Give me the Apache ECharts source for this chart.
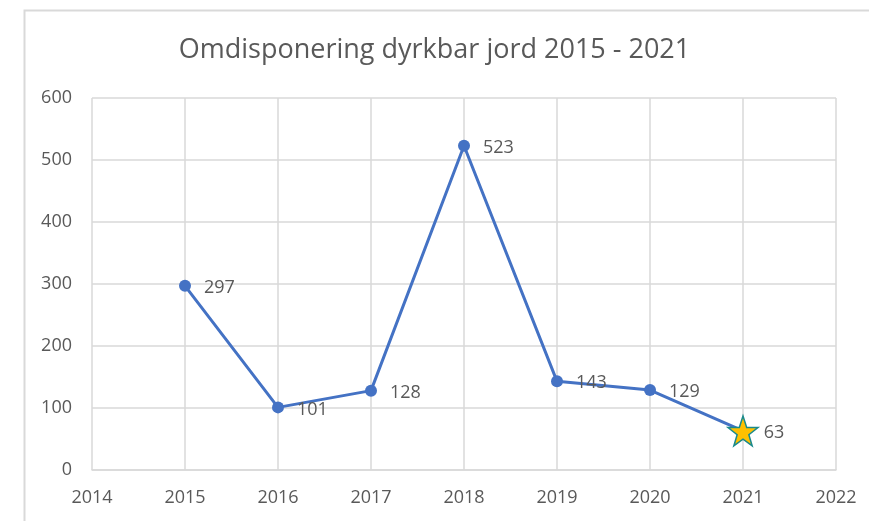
<!DOCTYPE html>
<html><head><meta charset="utf-8">
<script src="https://cdn.jsdelivr.net/npm/echarts@6/dist/echarts.min.js"></script>
<style>html,body{margin:0;padding:0;background:#fff}#c{width:869px;height:521px}</style>
</head><body><div id="c"></div>
<script>
const titleText = 'Omdisponering dyrkbar jord 2015 - 2021';
const years = [2015, 2016, 2017, 2018, 2019, 2020, 2021];
const values = [297, 101, 128, 523, 143, 129, 63];
const xMin = 2014, xMax = 2022;
const yMin = 0, yMax = 600, yStep = 100;

const STAR = 'path://M50,0 L61.8,35.1 L98.1,35.1 L68.8,56.9 L79.4,91 L50,70.5 L20.6,91 L31.2,56.9 L1.9,35.1 L38.2,35.1 Z';
const font = '"Open Sans", "Liberation Sans", sans-serif';

const data = years.map((y, i) => {
  const item = { value: [y, values[i]] };
  if (i === years.length - 1) {
    item.symbol = STAR;
    item.symbolSize = 30;
    item.itemStyle = { color: '#FFC000', borderColor: '#1A8A8C', borderWidth: 1.5 };
    item.label = { offset: [-8, 2] };
  }
  return item;
});

const chart = echarts.init(document.getElementById('c'), null, { renderer: 'canvas' });
chart.setOption({
  animation: false,
  backgroundColor: '#fff',
  graphic: [{
    type: 'rect', shape: { x: 24.5, y: 10.5, width: 900, height: 600 },
    style: { fill: 'none', stroke: '#d9d9d9', lineWidth: 2 }, silent: true, z: -1
  }],
  title: {
    text: titleText, left: 'center', top: 32,
    textStyle: { fontFamily: font, fontSize: 27, fontWeight: 'normal', color: '#595959' }
  },
  grid: { left: 92, right: 33, top: 98, bottom: 51 },
  xAxis: {
    type: 'value', min: xMin, max: xMax, interval: 1,
    axisLine: { show: true, lineStyle: { color: '#d9d9d9', width: 1.5 } },
    axisTick: { show: false },
    splitLine: { show: true, lineStyle: { color: '#d9d9d9', width: 1.5 } },
    axisLabel: { margin: 19, color: '#595959', fontFamily: font, fontSize: 18, formatter: v => String(v) }
  },
  yAxis: {
    type: 'value', min: yMin, max: yMax, interval: yStep,
    axisLine: { show: false }, axisTick: { show: false },
    splitLine: { show: true, lineStyle: { color: '#d9d9d9', width: 1.5 } },
    axisLabel: { margin: 20, color: '#595959', fontFamily: font, fontSize: 18 }
  },
  series: [{
    type: 'line', data: data,
    symbol: 'circle', symbolSize: 12,
    lineStyle: { color: '#4472C4', width: 3 },
    itemStyle: { color: '#4472C4' },
    label: {
      show: true, position: 'right', distance: 13, offset: [0, 2],
      color: '#595959', fontFamily: font, fontSize: 18,
      formatter: p => String(p.value[1])
    }
  }]
});
</script></body></html>
